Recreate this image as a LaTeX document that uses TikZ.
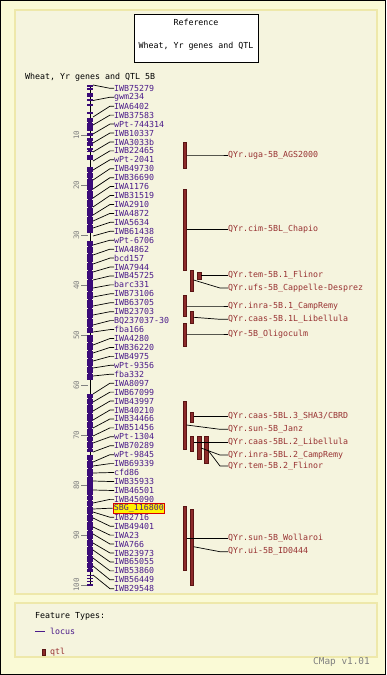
\documentclass[tikz,border=0pt]{standalone}
\usepackage{fontspec}
\newfontfamily\pix{DejaVu Sans Mono}
\newcommand\qslash{/}
\definecolor{outerbg}{RGB}{250,250,214}
\definecolor{panelbg}{RGB}{245,244,222}
\definecolor{panelbd}{RGB}{238,232,170}
\definecolor{locuscol}{RGB}{74,26,138}
\definecolor{chromcol}{RGB}{58,10,120}
\definecolor{qtlcol}{RGB}{152,50,50}
\definecolor{qtlfill}{RGB}{140,42,42}
\definecolor{qtldraw}{RGB}{90,20,20}
\definecolor{scalecol}{RGB}{128,128,128}
\tikzset{
  txt/.style={font=\pix\fontsize{8.3}{9}\selectfont, inner sep=0pt, anchor=west},
  locus/.style={txt, text=locuscol},
  hl/.style={fill=yellow, draw=red!85!black, line width=0.8pt, inner sep=1pt},
  qtllab/.style={txt, text=qtlcol},
  conn/.style={draw=black, line width=0.7pt},
  qtlbar/.style={fill=qtlfill, draw=qtldraw, line width=0.5pt},
  scalelab/.style={font=\pix\fontsize{7.5}{8}\selectfont, text=scalecol, inner sep=0pt, rotate=90},
  panel/.style={fill=panelbg, draw=panelbd, line width=1.5pt},
}
\begin{document}
\begin{tikzpicture}[x=1pt,y=-1pt]
\useasboundingbox (0,0) rectangle (386,675);
% background
\path[fill=outerbg, draw=black, line width=1pt] (0.5,0.5) rectangle (385.5,674.5);
\path[panel] (15,10) rectangle (377,594);
\path[panel] (15,603) rectangle (377,657);
% title box
\path[fill=white, draw=black, line width=0.8pt] (134,14) rectangle (258,62);
\node[txt, anchor=center] (t1) at (196,22.5) {Reference};
\node[txt, anchor=center] (t2) at (196,46) {Wheat, Yr genes and QTL};
\node[txt] (mapname) at (25,77) {Wheat, Yr genes and QTL 5B};
% scale
\foreach \v in {10,20,...,100}{
  \pgfmathsetmacro\yy{85+5*\v}
  \draw[scalecol, line width=0.7pt] (81,\yy) -- (88,\yy);
  \node[scalelab] (s\v) at (76.5,\yy) {\v};
}
% chromosome
\draw[black, line width=0.8pt] (90,85) -- (90,585);
\foreach \a/\b in {84.5/86.5,88/90,93/97,99/101,104/106,112/114,118/131,133/136,138/146,148/152,155/160,167/233,241/333,335/380,394/452,455/572,574.5/576,577.5/579,580.5/582,583.5/585.5}{
  \path[fill=chromcol] (87,\a) rectangle (93,\b);
}
\foreach \n in {122,141,150,172,178,190,199,207,216,224,246,253,262,270,279,291,299,308,318,327,342,350,358,366,373,398,404,413,421,428,436,441,448,460,468,476,495,500,506,514,521,530,539,546,555,562,568}{
  \path[fill=panelbg] (86.8,\n) rectangle (88.2,\n+1.3);
  \path[fill=panelbg] (91.8,\n) rectangle (93.2,\n+1.3);
}
% loci
\foreach \nm/\cy [count=\i] in {IWB75279/85,gwm234/100.5,IWA6402/117,IWB37583/125,wPt-744314/134,IWB10337/143,IWA3033b/152,IWB22465/161,wPt-2041/170,IWB49730/180,IWB36690/189,IWA1176/198,IWB31519/207,IWA2910/215,IWA4872/221,IWA5634/228,IWB61438/236,wPt-6706/245,IWA4862/255,bcd157/264,IWA7944/272,IWB45725/280,barc331/288,IWB73106/297,IWB63705/306,IWB23703/315,BQ237037-30/325,fba166/332,IWA4280/345,IWB36220/353,IWB4975/361,wPt-9356/368,fba332/376,IWA8097/394,IWB67099/402,IWB43997/411,IWB40210/420,IWB34466/428,IWB51456/436,wPt-1304/443,IWB70289/452,wPt-9845/462,IWB69339/466,cfd86/473,IWB35933/481,IWB46501/490,IWB45090/503,SBG\_116800/509,IWB2716/512,IWB49401/518,IWA23/527,IWA766/534,IWB23973/543,IWB65055/550,IWB53860/558,IWB56449/566,IWB29548/575}{
  \pgfmathsetmacro\ly{88.3+8.936*(\i-1)}
  \ifnum\i=48
    \node[locus, hl, anchor=west] (n\i) at (112.5,\ly) {\nm};
  \else
    \node[locus] (n\i) at (114,\ly) {\nm};
  \fi
  \coordinate (c\i) at (93,\cy);
  \draw[conn] (c\i) -- ([xshift=-4pt]n\i.west) -- (n\i.west);
}
% QTL bars
\foreach \xa/\ya/\yb in {183/142.3/168.3, 183/189.3/270, 190/270/291.7, 197.3/272.3/279, 183/295/316.7, 190/311/323.3, 183/323.3/346.7, 183/401.7/449.3, 190/412.3/422.3, 190/436.7/451.7, 197.3/436.7/459.3, 204.3/436.7/463.3, 183/506.7/570.7, 190/509/585.7}{
  \path[qtlbar] (\xa,\ya) rectangle (\xa+3.6,\yb);
}
% QTL labels and connectors
\foreach \nm/\ly/\cx/\cy [count=\i] in {QYr.uga-5B\_AGS2000/155/186.6/155, QYr.cim-5BL\_Chapio/229.3/186.6/229.3, QYr.tem-5B.1\_Flinor/275.7/200.9/275.7, QYr.ufs-5B\_Cappelle-Desprez/288/193.6/280, QYr.inra-5B.1\_CampRemy/306/186.6/306, QYr.caas-5B.1L\_Libellula/319.3/193.6/317.3, QYr-5B\_Oligoculm/334/186.6/334, QYr.caas-5BL.3\_SHA3\qslash CBRD/416.7/193.6/416.7, QYr.sun-5B\_Janz/429.3/186.6/425, QYr.caas-5BL.2\_Libellula/442.7/193.6/442.7, QYr.inra-5BL.2\_CampRemy/455/200.9/448, QYr.tem-5B.2\_Flinor/466/207.9/450, QYr.sun-5B\_Wollaroi/538.3/186.6/538.3, QYr.ui-5B\_ID0444/551.7/193.6/546.7}{
  \node[qtllab] (q\i) at (228,\ly) {\nm};
  \coordinate (qc\i) at (\cx,\cy);
  \draw[conn] (qc\i) -- ([xshift=-8pt]q\i.west) -- (q\i.west);
}
% legend
\node[txt] (lt) at (35,616.7) {Feature Types:};
\coordinate (ll) at (35,631.7);
\node[locus] (lloc) at (50,631.7) {locus};
\draw[locuscol, line width=0.9pt] (ll) -- ([xshift=-5pt]lloc.west);
\path[qtlbar] (42.5,649.3) rectangle (45.5,655.7);
\node[qtllab] (lqtl) at (50,652) {qtl};
\node[font=\pix\fontsize{9.4}{10}\selectfont, text=scalecol, inner sep=0pt, anchor=east] (ver) at (370,662) {CMap v1.01};
\end{tikzpicture}
\end{document}
